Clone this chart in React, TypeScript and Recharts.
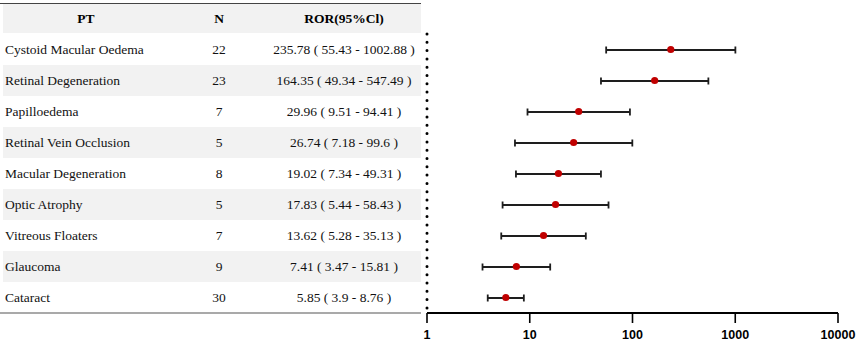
import React from "react";
import { ComposedChart, XAxis, YAxis, Bar, Line, Customized } from "recharts";

// forest plot values, top row first
const terms = [
  "Cystoid Macular Oedema",
  "Retinal Degeneration",
  "Papilloedema",
  "Retinal Vein Occlusion",
  "Macular Degeneration",
  "Optic Atrophy",
  "Vitreous Floaters",
  "Glaucoma",
  "Cataract",
];
const counts = [22, 23, 7, 5, 8, 5, 7, 9, 30];
const rors = [235.78, 164.35, 29.96, 26.74, 19.02, 17.83, 13.62, 7.41, 5.85];
const lowers = [55.43, 49.34, 9.51, 7.18, 7.34, 5.44, 5.28, 3.47, 3.9];
const uppers = [1002.88, 547.49, 94.41, 99.6, 49.31, 58.43, 35.13, 15.81, 8.76];
const xTicks = [1, 10, 100, 1000, 10000];

const rows = terms.map((pt, i) => ({
  pt,
  n: counts[i],
  ror: rors[i],
  ci: [lowers[i], uppers[i]],
  label: `${rors[i]} ( ${lowers[i]} - ${uppers[i]} )`,
}));

const serif = "'Liberation Serif', 'Times New Roman', serif";
const stripe = "#f2f2f2";
const ROW_H = 31;

function TableRow(props: any) {
  const { y, payload } = props;
  const i = terms.indexOf(payload.value);
  const row = rows[i];
  if (!row) return null;
  return (
    <g>
      {i % 2 === 1 && (
        <rect x={3} y={y - ROW_H / 2} width={418} height={ROW_H} fill={stripe} />
      )}
      <text x={5} y={y} dy="0.35em" fontFamily={serif} fontSize={13.5} fill="#111">
        {row.pt}
      </text>
      <text x={219} y={y} dy="0.35em" textAnchor="middle" fontFamily={serif} fontSize={13.5} fill="#111">
        {row.n}
      </text>
      <text x={344} y={y} dy="0.35em" textAnchor="middle" fontFamily={serif} fontSize={13.5} fill="#111">
        {row.label}
      </text>
    </g>
  );
}

function TableFrame() {
  return (
    <g>
      <rect x={3} y={4} width={418} height={29} fill={stripe} />
      <line x1={0} y1={3.5} x2={421} y2={3.5} stroke="#444" strokeWidth={1.2} />
      <line x1={0} y1={313} x2={421} y2={313} stroke="#555" strokeWidth={1.2} />
      <text x={86} y={18} dy="0.35em" textAnchor="middle" fontFamily={serif} fontSize={13.5} fontWeight="bold">PT</text>
      <text x={219} y={18} dy="0.35em" textAnchor="middle" fontFamily={serif} fontSize={13.5} fontWeight="bold">N</text>
      <text x={344} y={18} dy="0.35em" textAnchor="middle" fontFamily={serif} fontSize={13.5} fontWeight="bold">ROR(95%Cl)</text>
    </g>
  );
}

// whisker with end caps, drawn from the range bar geometry
function Whisker(props: any) {
  const { x, y, width, height } = props;
  const cy = y + height / 2;
  const x2 = x + width;
  return (
    <g stroke="#1e1e1e" strokeWidth={1.8}>
      <line x1={x} y1={cy} x2={x2} y2={cy} />
      <line x1={x} y1={cy - 3.5} x2={x} y2={cy + 3.5} />
      <line x1={x2} y1={cy - 3.5} x2={x2} y2={cy + 3.5} />
    </g>
  );
}

export default function App() {
  return (
    <div style={{ position: "absolute", left: 0, top: 0, background: "#fff" }}>
      <ComposedChart
        width={858}
        height={344}
        data={rows}
        layout="vertical"
        margin={{ top: 34, right: 20, bottom: 1, left: 0 }}
      >
        <Customized component={TableFrame} />
        <XAxis
          type="number"
          scale="log"
          domain={[1, 10000]}
          ticks={xTicks}
          interval={0}
          allowDataOverflow
          height={30}
          tickSize={10}
          tickMargin={7}
          axisLine={{ stroke: "#000", strokeWidth: 2 }}
          tickLine={{ stroke: "#000", strokeWidth: 1.6 }}
          tick={{ fill: "#000", fontSize: 12.5, fontWeight: "bold", fontFamily: "'Liberation Sans', Arial, sans-serif" }}
          tickFormatter={(v) => String(v)}
        />
        <YAxis
          type="category"
          dataKey="pt"
          width={427}
          tickLine={false}
          axisLine={{ stroke: "#000", strokeWidth: 3, strokeDasharray: "0 8.3", strokeLinecap: "round" }}
          tick={<TableRow />}
          interval={0}
        />
        <Bar dataKey="ci" barSize={8} shape={<Whisker />} isAnimationActive={false} />
        <Line
          dataKey="ror"
          stroke="none"
          dot={{ r: 3.6, fill: "#c00000", stroke: "none" }}
          activeDot={false}
          isAnimationActive={false}
        />
      </ComposedChart>
    </div>
  );
}
